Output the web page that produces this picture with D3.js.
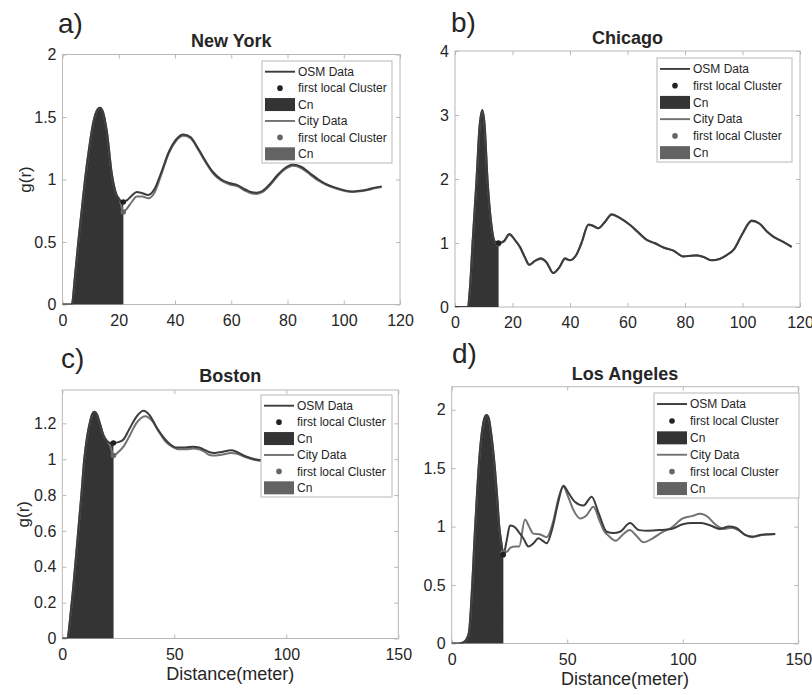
<!DOCTYPE html>
<html><head><meta charset="utf-8">
<script src="https://cdn.jsdelivr.net/npm/d3@7"></script>
<style>body{margin:0;background:#fff;} svg{display:block;}</style>
</head><body>
<svg id="chart" width="812" height="695"></svg>
<script>
// ---------------- DATA ----------------
const cities = ["New York", "Chicago", "Boston", "Los Angeles"];
const panelTags = ["a)", "b)", "c)", "d)"];
const legendLabels = ["OSM Data", "first local Cluster", "Cn", "City Data", "first local Cluster", "Cn"];
const xAxisLabel = "Distance(meter)";
const yAxisLabel = "g(r)";

const xTicksTop = [0, 20, 40, 60, 80, 100, 120];
const xTicksBottom = [0, 50, 100, 150];
const yTicksNY = [0, 0.5, 1, 1.5, 2];
const yTicksCH = [0, 1, 2, 3, 4];
const yTicksBO = [0, 0.2, 0.4, 0.6, 0.8, 1, 1.2];
const yTicksLA = [0, 0.5, 1, 1.5, 2];

// r of the first local cluster (end of Cn area) per city
const clusterR = [21.6, 15.1, 22.8, 22.3];

// New York
const nyR = [0, 2, 3.3, 4.4, 5.6, 6.8, 8.0, 9.4, 10.8, 12.2, 13.3, 14.4, 15.8, 17.5, 19.0, 20.4, 21.6, 23.0, 24.6, 26.4, 28.4, 30.5, 32.6, 35.0, 37.8, 40.4, 43.0, 45.5, 48.2, 50.8, 53.5, 56.5, 59.6, 62.2, 65.0, 67.0, 69.0, 71.2, 73.6, 76.2, 79.0, 82.0, 85.0, 88.0, 91.0, 94.0, 97.0, 100.0, 103.0, 105.8, 108.5, 111.0, 113.5];
const nyOsm = [0, 0, 0, 0.22, 0.5, 0.75, 1.0, 1.24, 1.44, 1.55, 1.575, 1.54, 1.38, 1.05, 0.89, 0.835, 0.82, 0.835, 0.87, 0.90, 0.89, 0.877, 0.92, 1.05, 1.22, 1.32, 1.36, 1.34, 1.25, 1.15, 1.06, 1.00, 0.97, 0.955, 0.92, 0.90, 0.895, 0.91, 0.96, 1.03, 1.09, 1.12, 1.10, 1.05, 1.00, 0.96, 0.935, 0.915, 0.905, 0.91, 0.92, 0.935, 0.945];
const nyCity = [0, 0, 0, 0.22, 0.5, 0.75, 1.0, 1.24, 1.44, 1.55, 1.575, 1.54, 1.38, 1.05, 0.89, 0.835, 0.74, 0.77, 0.82, 0.865, 0.865, 0.85, 0.89, 1.03, 1.21, 1.31, 1.35, 1.33, 1.24, 1.14, 1.05, 0.99, 0.96, 0.945, 0.91, 0.89, 0.885, 0.9, 0.95, 1.02, 1.08, 1.11, 1.09, 1.04, 0.99, 0.955, 0.93, 0.91, 0.9, 0.905, 0.915, 0.93, 0.94];

// Chicago
const chR = [0, 2, 4.3, 5.2, 6.1, 7.5, 8.5, 9.5, 10.3, 11.3, 12.5, 13.9, 15.1, 17.0, 18.9, 20.8, 22.6, 24.3, 25.8, 27.8, 29.8, 31.8, 34.2, 36.3, 38.3, 40.0, 42.0, 44.0, 46.4, 48.0, 49.8, 52.0, 54.5, 57.0, 60.9, 63.5, 66.7, 69.5, 72.5, 76.0, 79.4, 82.0, 84.0, 86.5, 89.3, 92.0, 94.5, 97.0, 100.0, 103.2, 106.0, 108.5, 110.7, 114.0, 117.1];
const chOsm = [0, 0, 0, 0.3, 1.0, 2.0, 2.8, 3.08, 2.85, 2.0, 1.35, 1.02, 1.0, 1.03, 1.14, 1.05, 0.94, 0.78, 0.66, 0.72, 0.76, 0.70, 0.53, 0.62, 0.76, 0.73, 0.80, 1.0, 1.29, 1.27, 1.23, 1.32, 1.45, 1.40, 1.28, 1.18, 1.05, 1.0, 0.93, 0.88, 0.79, 0.80, 0.81, 0.78, 0.73, 0.75, 0.81, 0.90, 1.15, 1.35, 1.30, 1.18, 1.10, 1.02, 0.94];
const chCity = [0, 0, 0, 0.3, 1.0, 2.0, 2.8, 3.07, 2.84, 2.0, 1.35, 1.02, 0.99, 1.02, 1.13, 1.05, 0.93, 0.77, 0.66, 0.72, 0.75, 0.70, 0.53, 0.62, 0.75, 0.73, 0.80, 1.0, 1.28, 1.27, 1.23, 1.32, 1.44, 1.40, 1.28, 1.17, 1.05, 0.99, 0.93, 0.88, 0.79, 0.80, 0.80, 0.78, 0.73, 0.75, 0.81, 0.90, 1.14, 1.34, 1.30, 1.18, 1.10, 1.02, 0.94];

// Boston
const bosOsmR = [0, 2.0, 4.2, 5.7, 7.1, 8.5, 9.8, 11.0, 12.4, 13.3, 14.3, 15.5, 17.0, 18.5, 20.0, 21.5, 22.8, 25.0, 27.3, 30.0, 33.0, 36.2, 39.0, 42.0, 45.0, 48.0, 51.0, 55.0, 58.4, 61.0, 63.0, 65.5, 68.0, 71.0, 75.5, 78.0, 82.0, 86.0, 90.0, 96.0];
const bosOsm = [0, 0, 0.2, 0.4, 0.6, 0.8, 1.0, 1.12, 1.21, 1.25, 1.265, 1.25, 1.19, 1.13, 1.10, 1.09, 1.09, 1.095, 1.11, 1.17, 1.235, 1.27, 1.245, 1.18, 1.125, 1.085, 1.065, 1.065, 1.07, 1.065, 1.055, 1.04, 1.035, 1.04, 1.05, 1.04, 1.015, 1.0, 0.995, 1.0];
const bosCityR = [0, 2.0, 4.2, 5.7, 7.1, 8.5, 9.8, 11.0, 12.4, 13.3, 14.3, 15.5, 17.0, 18.5, 20.0, 21.5, 22.8, 25.0, 27.3, 30.0, 33.0, 37.0, 40.0, 43.0, 46.0, 49.0, 52.0, 55.0, 58.4, 61.0, 63.0, 65.5, 68.0, 71.0, 75.5, 78.0, 82.0, 86.0, 90.0, 96.0];
const bosCity = [0, 0, 0.2, 0.4, 0.6, 0.8, 1.0, 1.12, 1.21, 1.25, 1.265, 1.25, 1.19, 1.13, 1.10, 1.07, 1.02, 1.04, 1.07, 1.13, 1.20, 1.24, 1.215, 1.155, 1.10, 1.07, 1.055, 1.055, 1.06, 1.055, 1.045, 1.025, 1.02, 1.025, 1.035, 1.03, 1.01, 0.995, 0.99, 0.995];

// Los Angeles
const laOsmR = [0, 3, 5.0, 6.5, 7.5, 8.3, 9.0, 10.0, 11.0, 12.0, 13.0, 14.2, 15.1, 16.0, 17.2, 18.7, 19.7, 20.6, 21.5, 22.3, 23.8, 25.2, 27.0, 28.8, 31.0, 33.2, 35.5, 37.5, 39.3, 41.1, 43.5, 46.0, 48.3, 50.8, 53.4, 57.0, 60.6, 63.5, 67.1, 70.0, 72.8, 77.2, 81.0, 85.0, 90.0, 95.0, 100.0, 104.0, 108.0, 112.0, 116.0, 120.0, 123.0, 127.0, 130.0, 134.0, 140.0];
const laOsm = [0, 0, 0.01, 0.04, 0.1, 0.3, 0.55, 0.95, 1.3, 1.6, 1.8, 1.93, 1.955, 1.93, 1.78, 1.5, 1.25, 1.0, 0.86, 0.76, 0.88, 1.01, 1.0, 0.96, 0.9, 0.83, 0.86, 0.90, 0.88, 0.857, 0.98, 1.2, 1.35, 1.28, 1.21, 1.18, 1.256, 1.12, 0.956, 0.945, 0.956, 1.03, 0.97, 0.965, 0.97, 0.98, 1.02, 1.03, 1.03, 1.01, 0.98, 1.0, 0.99, 0.93, 0.915, 0.93, 0.937];
const laCityR = [0, 3, 5.0, 6.5, 7.5, 8.3, 9.0, 10.0, 11.0, 12.0, 13.0, 14.2, 15.1, 16.0, 17.2, 18.7, 19.7, 20.6, 21.5, 22.3, 23.8, 25.5, 27.4, 29.2, 31.7, 33.5, 35.3, 38.0, 41.1, 44.0, 46.3, 48.3, 50.5, 52.5, 55.6, 58.5, 61.3, 64.0, 66.0, 68.0, 71.0, 74.0, 77.0, 80.0, 83.0, 87.0, 91.0, 95.0, 100.0, 104.0, 107.5, 111.0, 114.0, 118.0, 121.0, 124.0, 127.0, 130.0, 135.0, 140.0];
const laCity = [0, 0, 0.01, 0.04, 0.1, 0.3, 0.55, 0.95, 1.3, 1.6, 1.8, 1.93, 1.955, 1.93, 1.78, 1.5, 1.25, 1.0, 0.86, 0.78, 0.785, 0.82, 0.83, 0.83, 1.06, 1.0, 0.94, 0.935, 0.91, 1.05, 1.25, 1.34, 1.25, 1.15, 1.07, 1.1, 1.17, 1.05, 0.96, 0.92, 0.88, 0.93, 0.97, 0.92, 0.866, 0.9, 0.95, 0.99, 1.07, 1.09, 1.11, 1.08, 1.02, 0.98, 0.99, 0.97, 0.93, 0.91, 0.93, 0.937];

// ---------------- LAYOUT ----------------
const FONT = "'Liberation Sans', Arial, Helvetica, sans-serif";
const TXT = "#262626";
const AXC = "#b8b8b8";
const OSM_LINE = "#3c3c3c", CITY_LINE = "#727272";
const OSM_FILL = "#343434", CITY_FILL = "#636363";

const panels = [
  {i:0, box:[62.5,54.5,400,304.5], ymax:2, xmax:120, xt:xTicksTop, yt:yTicksNY, leg:[262,61,130,102], tag:[58,33], titleY:47, ylab:26, xlab:false,
   osm:[nyR,nyOsm], city:[nyR,nyCity]},
  {i:1, box:[455,51,800,307], ymax:4, xmax:120, xt:xTicksTop, yt:yTicksCH, leg:[657,58,135,104], tag:[451,32], titleY:44, ylab:null, xlab:false,
   osm:[chR,chOsm], city:[chR,chCity]},
  {i:2, box:[62.3,390,398.3,638.5], ymax:1.386, xmax:150, xt:xTicksBottom, yt:yTicksBO, leg:[261,395,131,102], tag:[61,368], titleY:382, ylab:24, xlab:true,
   osm:[bosOsmR,bosOsm], city:[bosCityR,bosCity]},
  {i:3, box:[451.7,386.7,798.3,643.5], ymax:2.197, xmax:150, xt:xTicksBottom, yt:yTicksLA, leg:[654,393,145,105], tag:[452,363], titleY:380, ylab:null, xlab:true,
   osm:[laOsmR,laOsm], city:[laCityR,laCity]},
];

const svg = d3.select("#chart");
svg.append("rect").attr("width",812).attr("height",695).attr("fill","#fff");

panels.forEach(p => {
  const [x0,y0,x1,y1] = p.box;
  const x = d3.scaleLinear().domain([0,p.xmax]).range([x0,x1]);
  const y = d3.scaleLinear().domain([0,p.ymax]).range([y1,y0]);
  const g = svg.append("g");
  const cid = "clip"+p.i;
  g.append("clipPath").attr("id",cid).append("rect").attr("x",x0).attr("y",y0).attr("width",x1-x0).attr("height",y1-y0);

  // axes ticks (inward, all four sides)
  const axB = d3.axisBottom(x).tickValues(p.xt).tickSize(-4).tickPadding(10).tickFormat(d=>String(d));
  const axT = d3.axisTop(x).tickValues(p.xt).tickSize(-4).tickFormat("");
  const axL = d3.axisLeft(y).tickValues(p.yt).tickSize(-4).tickPadding(6).tickFormat(d=>String(d));
  const axR = d3.axisRight(y).tickValues(p.yt).tickSize(-4).tickFormat("");
  const styleAxis = sel => {
    sel.select(".domain").remove();
    sel.selectAll(".tick line").attr("stroke",AXC);
    sel.selectAll(".tick text").attr("fill",TXT).attr("font-family",FONT).attr("font-size",16);
  };
  g.append("g").attr("transform",`translate(0,${y1})`).call(axB).call(styleAxis);
  g.append("g").attr("transform",`translate(0,${y0})`).call(axT).call(styleAxis);
  g.append("g").attr("transform",`translate(${x0},0)`).call(axL).call(styleAxis);
  g.append("g").attr("transform",`translate(${x1},0)`).call(axR).call(styleAxis);
  g.append("rect").attr("x",x0).attr("y",y0).attr("width",x1-x0).attr("height",y1-y0)
    .attr("fill","none").attr("stroke",AXC).attr("stroke-width",1);

  const data = g.append("g").attr("clip-path",`url(#${cid})`);
  const series = [
    {s:p.city, line:CITY_LINE, fill:CITY_FILL},
    {s:p.osm, line:OSM_LINE, fill:OSM_FILL},
  ];
  const cr = clusterR[p.i];
  const area = d3.area().x(d=>x(d[0])).y0(y(0)).y1(d=>y(d[1])).curve(d3.curveMonotoneX);
  const line = d3.line().x(d=>x(d[0])).y(d=>y(d[1])).curve(d3.curveMonotoneX);
  series.forEach(se => {
    const pts = se.s[0].map((r,k)=>[r, se.s[1][k]]);
    data.append("path").datum(pts.filter(d=>d[0] <= cr + 1e-9))
      .attr("d",area).attr("fill",se.fill).attr("stroke","none");
  });
  series.forEach(se => {
    const pts = se.s[0].map((r,k)=>[r, se.s[1][k]]);
    data.append("path").datum(pts).attr("d",line).attr("fill","none")
      .attr("stroke",se.line).attr("stroke-width",2).attr("stroke-linejoin","round");
  });
  series.forEach(se => {
    const k = se.s[0].findIndex(r => Math.abs(r-cr) < 1e-9);
    if (k >= 0) data.append("circle").attr("cx",x(se.s[0][k])).attr("cy",y(se.s[1][k])).attr("r",2.8)
      .attr("fill", se.line === OSM_LINE ? "#222" : "#666");
  });

  // legend
  const [lx,ly,lw,lh] = p.leg;
  const lg = g.append("g");
  lg.append("rect").attr("x",lx).attr("y",ly).attr("width",lw).attr("height",lh)
    .attr("fill","#fff").attr("stroke",AXC).attr("stroke-width",1);
  const pitch = lh*0.161, first = ly + lh*0.105;
  legendLabels.forEach((lab,k) => {
    const cy = first + k*pitch;
    const isOsm = k < 3;
    const kind = k % 3;
    if (kind === 0) lg.append("line").attr("x1",lx+3).attr("x2",lx+33).attr("y1",cy).attr("y2",cy)
      .attr("stroke", isOsm?OSM_LINE:CITY_LINE).attr("stroke-width",1.9);
    if (kind === 1) lg.append("circle").attr("cx",lx+18).attr("cy",cy).attr("r",2.8).attr("fill", isOsm?"#222":"#666");
    if (kind === 2) lg.append("rect").attr("x",lx+3).attr("y",cy-6.5).attr("width",30).attr("height",13)
      .attr("fill", isOsm?OSM_FILL:CITY_FILL);
    lg.append("text").attr("x",lx+36).attr("y",cy+4.3).text(lab)
      .attr("font-family",FONT).attr("font-size",12).attr("fill",TXT);
  });

  // title, tag, labels
  g.append("text").attr("x",(x0+x1)/2).attr("y",p.titleY).attr("text-anchor","middle")
    .attr("font-family",FONT).attr("font-size",18).attr("font-weight","bold").attr("fill",TXT).text(cities[p.i]);
  g.append("text").attr("x",p.tag[0]).attr("y",p.tag[1])
    .attr("font-family",FONT).attr("font-size",28).attr("fill",TXT).text(panelTags[p.i]);
  if (p.ylab !== null) {
    const cy = (y0+y1)/2;
    g.append("text").attr("transform",`translate(${p.ylab+4.5},${cy}) rotate(-90)`).attr("text-anchor","middle")
      .attr("font-family",FONT).attr("font-size",17).attr("fill",TXT).text(yAxisLabel);
  }
  if (p.xlab) {
    g.append("text").attr("x",(x0+x1)/2).attr("y",y1+41.5).attr("text-anchor","middle")
      .attr("font-family",FONT).attr("font-size",18).attr("fill",TXT).text(xAxisLabel);
  }
});
</script>
</body></html>
